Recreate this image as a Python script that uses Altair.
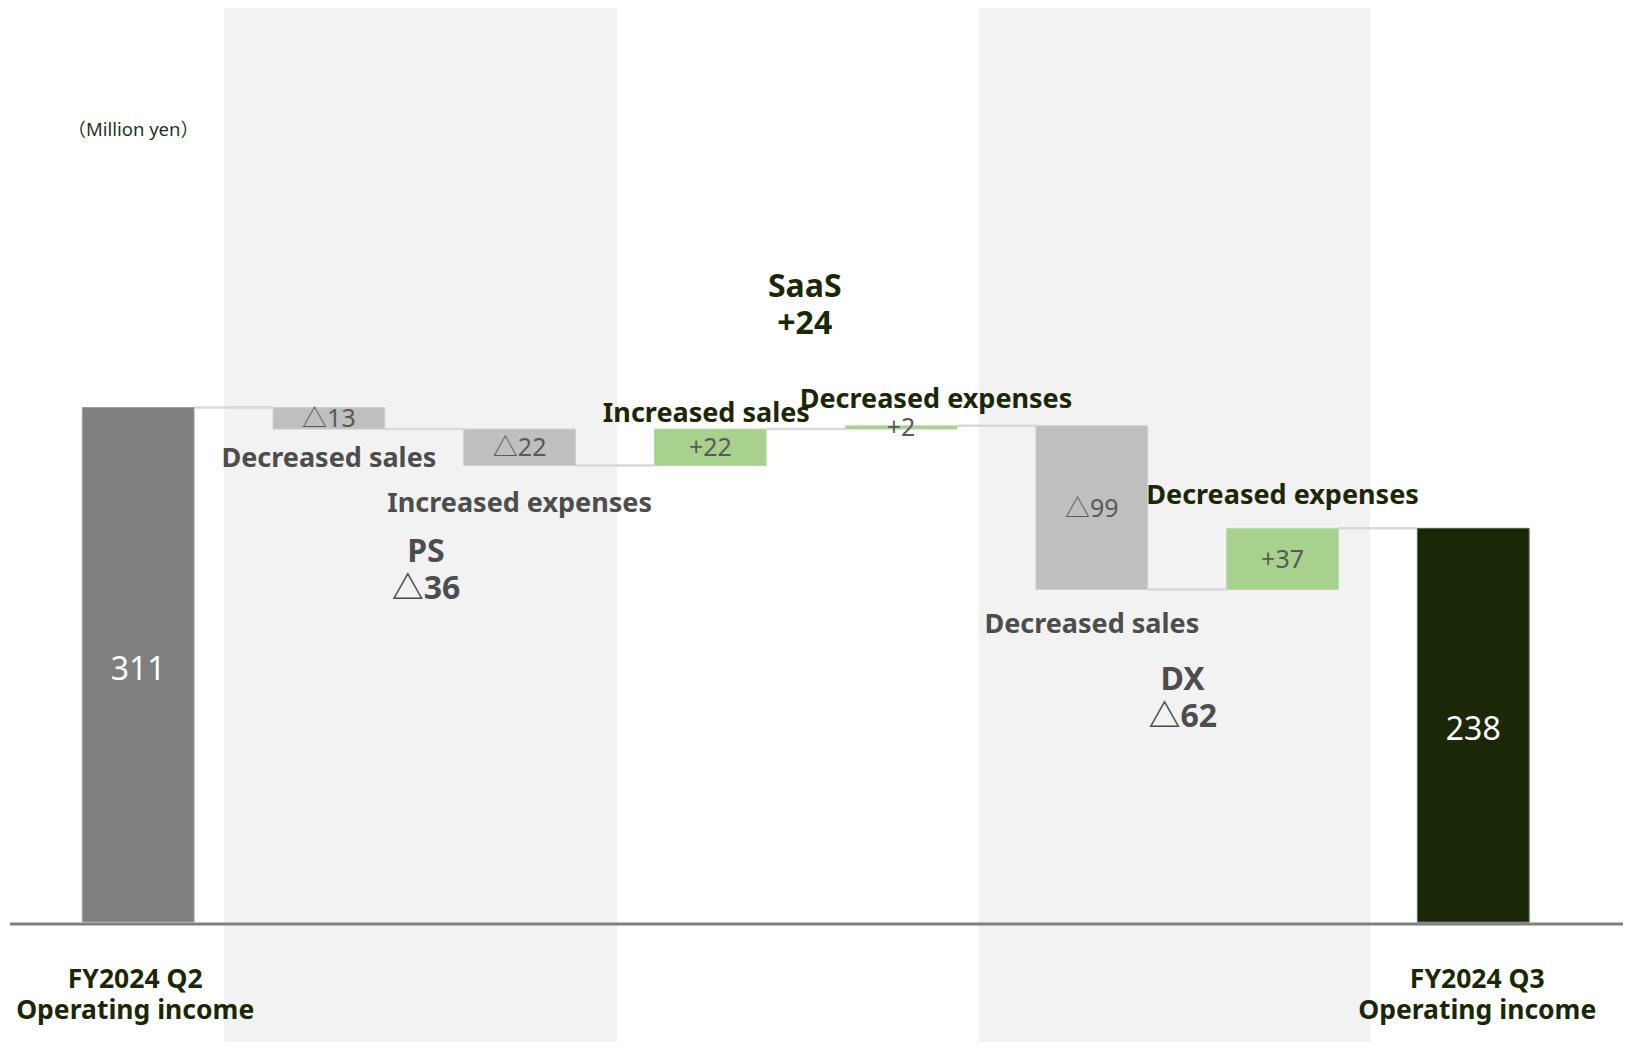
import altair as alt
import pandas as pd

# ---------------- data ----------------
kinds = ["start", "neg", "neg", "pos", "pos", "neg", "pos", "end"]
values = [311, -13, -22, 22, 2, -99, 37, 238]
segments = ["", "PS", "PS", "SaaS", "SaaS", "DX", "DX", ""]
item_labels = ["", "Decreased sales", "Increased expenses", "Increased sales",
               "Decreased expenses", "Decreased sales", "Decreased expenses", ""]
total_labels = [["FY2024 Q2", "Operating income"], ["FY2024 Q3", "Operating income"]]
group_names = ["PS", "SaaS", "DX"]
group_totals = ["△36", "+24", "△62"]
unit_label = "（Million yen）"

# ---------------- layout / style ----------------
W, H = 1615, 1034
STEP = 191.2          # px between categories
X0 = 128.5            # px of first category centre
PX = 1.654            # px per million yen
Y0 = 914.0            # px of value 0
HALF = 56 / STEP      # half bar width in category units

FONT = "Noto Sans, Noto Sans CJK JP, sans-serif"
GRAY_TXT = "#4d4d4d"
GREEN_TXT = "#1a2808"
FILL = {"start": "#7f7f7f", "neg": "#bfbfbf", "pos": "#a9d18e", "end": "#1a2808"}
EDGE = {"start": "#9c9c9c", "neg": "#cfcfcf", "pos": "#b9dba3", "end": "#5c6650"}

xscale = alt.Scale(domain=[-X0 / STEP, (W - X0) / STEP], nice=False, zero=False)
yscale = alt.Scale(domain=[(Y0 - H) / PX, Y0 / PX], nice=False, zero=False)

# ---------------- waterfall computation ----------------
rows = []
run = 0
for i, (k, v) in enumerate(zip(kinds, values)):
    if k in ("start", "end"):
        lo, hi = 0, v
        run = v
    else:
        new = run + v
        lo, hi = min(run, new), max(run, new)
        run = new
    if k in ("start", "end"):
        txt = str(v)
    elif v < 0:
        txt = "△" + str(abs(v))
    else:
        txt = "+" + str(v)
    rows.append(dict(i=i, x0=i - HALF, x1=i + HALF, lo=lo, hi=hi, mid=(lo + hi) / 2,
                     end=run, kind=k, fill=FILL[k], edge=EDGE[k], txt=txt))
bars = pd.DataFrame(rows)

conn = pd.DataFrame([dict(x0=rows[j]["i"] + HALF, x1=rows[j + 1]["i"] - HALF, y=rows[j]["end"])
                     for j in range(len(rows) - 1)])


def ytxt(anchor, capmid_px, size):
    """value for alphabetic baseline so that cap-middle sits capmid_px below anchor"""
    return anchor - (capmid_px + 0.357 * size) / PX


# value labels inside bars
vl = []
for r in rows:
    big = r["kind"] in ("start", "end")
    size = 32 if big else 25
    vl.append(dict(x=r["i"], y=ytxt(r["mid"], 3.5 if big else 0, size), t=r["txt"],
                   c="white" if big else "#595959", s=size))
vlab = pd.DataFrame(vl)

# bold annotations
ann = []
desc_off = {1: ("bottom", 27.9, 0), 2: ("bottom", 37, 0), 3: ("top", -16.6, -4),
            4: ("top", -27.8, 35), 5: ("bottom", 33.8, 0), 6: ("top", -33.6, 0)}
for i, (side, off, dx) in desc_off.items():
    r = rows[i]
    anchor = r["lo"] if side == "bottom" else r["hi"]
    ann.append(dict(x=i + dx / STEP, y=ytxt(anchor, off, 27), t=item_labels[i],
                    c=GRAY_TXT if r["kind"] == "neg" else GREEN_TXT, s=27))

grp_off = {"PS": ("bottom", 85.2, 122.5, 1.7), "SaaS": ("top", -139.8, -103.3, -1),
           "DX": ("bottom", 88.8, 126.2, -4.5)}
for g, tot in zip(group_names, group_totals):
    members = [r for r in rows if segments[r["i"]] == g]
    side, o1, o2, dx = grp_off[g]
    anchor = min(m["lo"] for m in members) if side == "bottom" else max(m["hi"] for m in members)
    cx = sum(m["i"] for m in members) / len(members) + dx / STEP
    col = GREEN_TXT if not tot.startswith("△") else GRAY_TXT
    ann.append(dict(x=cx, y=ytxt(anchor, o1, 32), t=g, c=col, s=32))
    ann.append(dict(x=cx, y=ytxt(anchor, o2, 32), t=tot, c=col, s=32))

for idx, lines, dx in zip([0, len(rows) - 1], total_labels, [-3, 4]):
    ann.append(dict(x=idx + dx / STEP, y=ytxt(0, 56.3, 26.5), t=lines[0], c=GREEN_TXT, s=26.5))
    ann.append(dict(x=idx + dx / STEP, y=ytxt(0, 88.0, 26.5), t=lines[1], c=GREEN_TXT, s=26.5))
annd = pd.DataFrame(ann)

unit = pd.DataFrame([dict(x=-5 / STEP, y=(Y0 - (121.7 + 0.357 * 18.5)) / PX, t=unit_label)])

bands = pd.DataFrame([dict(x0=1 - 0.549, x1=2 + 0.5115), dict(x0=5 - 0.595, x1=6 + 0.4603)])

X = lambda f: alt.X(f, scale=xscale, axis=None)
Y = lambda f: alt.Y(f, scale=yscale, axis=None)

band_layer = alt.Chart(bands).mark_rect(color="#f2f2f2").encode(
    x=X("x0:Q"), x2="x1:Q", y=alt.value(0), y2=alt.value(H))

base_layer = alt.Chart(pd.DataFrame({"v": [-1.2]})).mark_rule(color="#7f7f7f", strokeWidth=3).encode(
    x=alt.value(0), x2=alt.value(W), y=Y("v:Q"))

conn_layer = alt.Chart(conn).mark_rule(color="#d9d9d9", strokeWidth=2.5).encode(
    x=X("x0:Q"), x2="x1:Q", y=Y("y:Q"))

bar_layer = alt.Chart(bars).mark_rect(strokeWidth=1).encode(
    x=X("x0:Q"), x2="x1:Q", y=Y("lo:Q"), y2="hi:Q",
    fill=alt.Fill("fill:N", scale=None), stroke=alt.Stroke("edge:N", scale=None))

val_layer = alt.Chart(vlab).mark_text(font=FONT, align="center", baseline="alphabetic").encode(
    x=X("x:Q"), y=Y("y:Q"), text="t:N",
    color=alt.Color("c:N", scale=None), size=alt.Size("s:Q", scale=None))

ann_layer = alt.Chart(annd).mark_text(font=FONT, fontWeight="bold", align="center",
                                      baseline="alphabetic").encode(
    x=X("x:Q"), y=Y("y:Q"), text="t:N",
    color=alt.Color("c:N", scale=None), size=alt.Size("s:Q", scale=None))

unit_layer = alt.Chart(unit).mark_text(font=FONT, fontSize=18.5, color="#24331a", align="center",
                                       baseline="alphabetic").encode(
    x=X("x:Q"), y=Y("y:Q"), text="t:N")

chart = alt.layer(band_layer, base_layer, conn_layer, bar_layer, val_layer, ann_layer, unit_layer).properties(
    width=W, height=H, padding=0, background="white",
    autosize=alt.AutoSizeParams(type="fit", contains="padding"),
).configure_view(stroke=None)

chart.save("out.html", embed_options={"renderer": "svg", "actions": False})
